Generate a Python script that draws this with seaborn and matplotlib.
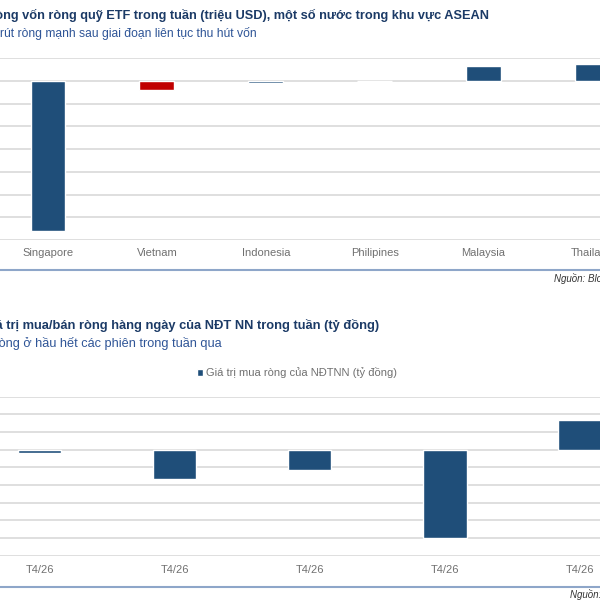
import matplotlib
matplotlib.use("Agg")
import matplotlib.pyplot as plt
import seaborn as sns
from matplotlib.patches import Patch
from matplotlib.lines import Line2D

# ---- data ----
countries = ["Singapore", "Vietnam", "Indonesia", "Philipines", "Malaysia", "Thailand"]
etf_flow = [-132, -8, -2, 0, 13, 15]          # triệu USD
etf_colors = ["#1F4E79", "#C00000", "#1F4E79", "#1F4E79", "#1F4E79", "#1F4E79"]

days = ["T4/26", "T4/26", "T4/26", "T4/26", "T4/26"]
day_keys = ["d1", "d2", "d3", "d4", "d5"]
foreign_net = [-38, -328, -226, -994, 338]   # tỷ đồng

BLUE = "#1F4E79"
TITLE = "#1B3A66"
SUB = "#2F5597"
GRID = "#DCDCDC"
TICK = "#707070"
SEP = "#8EA6C9"

sns.set_theme(style="white")
plt.rcParams["font.family"] = ["Liberation Sans", "DejaVu Sans"]

fig = plt.figure(figsize=(6, 6), dpi=100)
fig.patch.set_facecolor("white")


def style_axis(ax, step, lo, hi, pad):
    ax.set_ylim(lo, hi)
    ax.set_yticks(range(lo, hi + 1, step))
    ax.set_yticklabels([])
    ax.yaxis.grid(True, color=GRID, linewidth=1.3)
    ax.set_axisbelow(True)
    for s in ax.spines.values():
        s.set_visible(False)
    ax.tick_params(axis="both", length=0)
    ax.tick_params(axis="x", labelsize=8, labelcolor=TICK, pad=pad)
    ax.set_xlabel("")
    ax.set_ylabel("")


# ---------- chart 1: ETF flows ----------
ax1 = fig.add_axes([-0.0108, 0.60, 1.089, 0.3028])
sns.barplot(x=countries, y=etf_flow, hue=countries, palette=etf_colors,
            legend=False, width=0.32, ax=ax1, saturation=1)
style_axis(ax1, 20, -140, 20, 6)

fig.text(489 / 600, 1 - 15 / 600,
         "Dòng vốn ròng quỹ ETF trong tuần (triệu USD), một số nước trong khu vực ASEAN",
         ha="right", va="center", fontsize=9.15, fontweight="bold", color=TITLE)
fig.text(257 / 600, 1 - 33 / 600,
         "ETF Việt Nam bị rút ròng mạnh sau giai đoạn liên tục thu hút vốn",
         ha="right", va="center", fontsize=8.7, color=SUB)
fig.add_artist(Line2D([0, 1], [1 - 270 / 600] * 2, transform=fig.transFigure,
                      color=SEP, linewidth=1.5))
fig.text(554 / 600, 1 - 278 / 600, "Nguồn: Bloomberg", ha="left", va="center",
         fontsize=7, style="italic", color="#333333")

# ---------- chart 2: foreign investors ----------
ax2 = fig.add_axes([-0.0467, 0.0738, 1.126, 0.265])
sns.barplot(x=day_keys, y=foreign_net, color=BLUE, width=0.32, ax=ax2, saturation=1)
ax2.set_xticks(range(len(days)))
ax2.set_xticklabels(days)
style_axis(ax2, 200, -1200, 600, 7)

fig.text(379 / 600, 1 - 325 / 600,
         "Giá trị mua/bán ròng hàng ngày của NĐT NN trong tuần (tỷ đồng)",
         ha="right", va="center", fontsize=9.3, fontweight="bold", color=TITLE)
fig.text(222 / 600, 1 - 344 / 600,
         "Khối ngoại bán ròng ở hầu hết các phiên trong tuần qua",
         ha="right", va="center", fontsize=9.2, color=SUB)
fig.legend(handles=[Patch(facecolor=BLUE, label="Giá trị mua ròng của NĐTNN (tỷ đồng)")],
           loc="center", bbox_to_anchor=(297 / 600, 1 - 373 / 600), frameon=False,
           fontsize=8, handlelength=0.6, handleheight=0.6, handletextpad=0.3,
           labelcolor=TICK)
fig.add_artist(Line2D([0, 1], [1 - 587 / 600] * 2, transform=fig.transFigure,
                      color=SEP, linewidth=1.5))
fig.text(570 / 600, 1 - 594 / 600, "Nguồn: FiinPro", ha="left", va="center",
         fontsize=7, style="italic", color="#333333")

fig.savefig("out.png", dpi=100)
